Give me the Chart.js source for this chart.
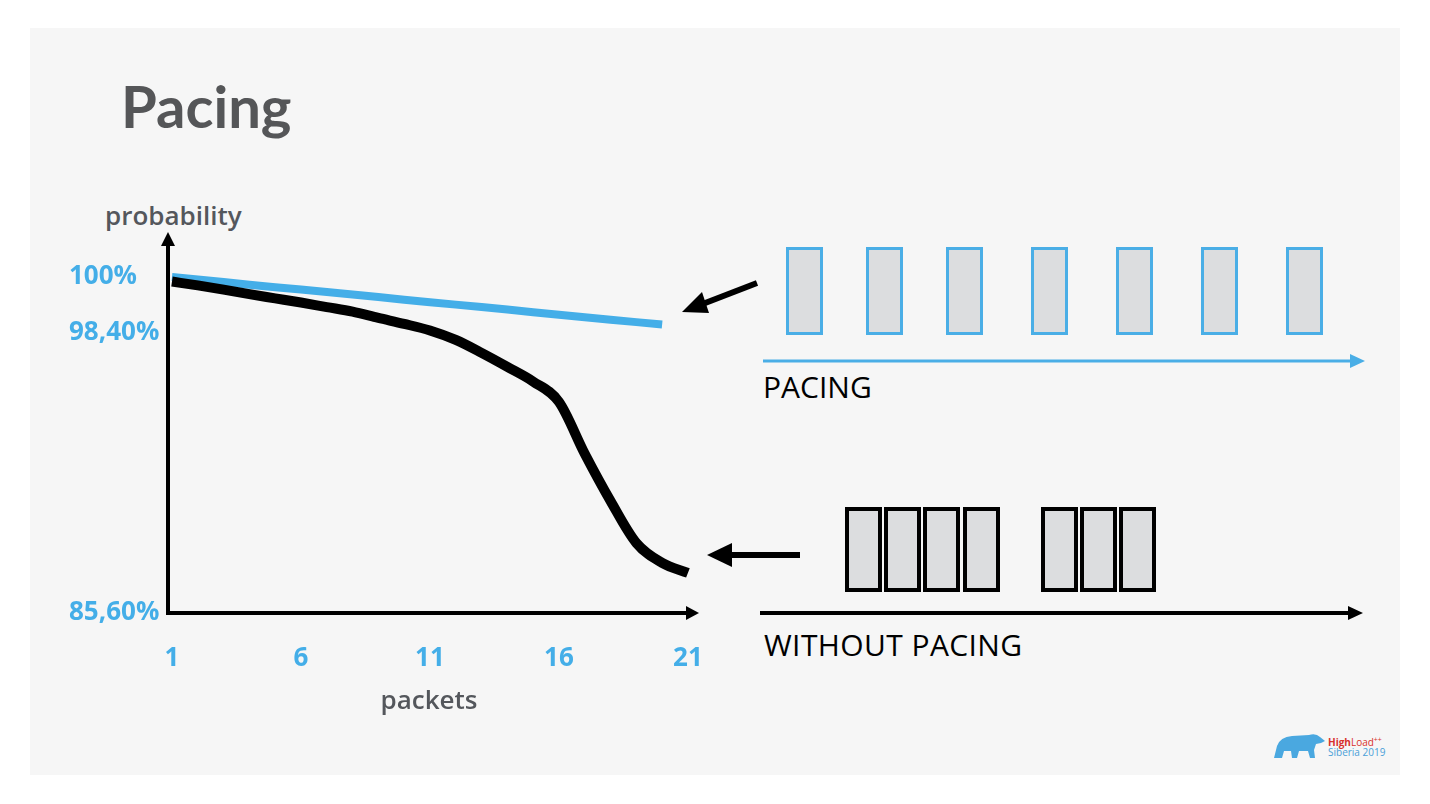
<!DOCTYPE html>
<html>
<head>
<meta charset="utf-8">
<title>Pacing</title>
<script src="https://cdn.jsdelivr.net/npm/chart.js@4/dist/chart.umd.min.js"></script>
<style>
  body { margin: 0; background: #fff; width: 1430px; height: 804px; overflow: hidden; position: relative; }
  .slide { position: absolute; left: 30px; top: 28px; width: 1370px; height: 747px; background: #f6f6f6; }
  .title { position: absolute; left: 121px; top: 77px; font: 700 58px Lato, sans-serif; color: #555658; line-height: 1; }
  .ylabel { position: absolute; left: 105px; top: 202px; font: 600 26px "Open Sans", sans-serif; color: #54575c; line-height: 1; }
  .caption { position: absolute; font: 500 30px "Open Sans", sans-serif; color: #000; line-height: 1; }
  #deco { position: absolute; left: 0; top: 0; }
  #wrap { position: absolute; left: 60px; top: 225px; width: 660px; height: 500px; }
</style>
</head>
<body>
<div class="slide"></div>
<div class="title">Pacing</div>
<div class="ylabel">probability</div>
<div class="caption" style="left:763px; top:372px;">PACING</div>
<div class="caption" style="left:764px; top:630px; letter-spacing:0.4px;">WITHOUT PACING</div>

<svg id="deco" width="1430" height="804">
  <!-- paced packets -->
  <g fill="#dcdddf" stroke="#4aaee6" stroke-width="3">
    <rect x="787.5" y="248.5" width="34" height="85"/>
    <rect x="867.5" y="248.5" width="34" height="85"/>
    <rect x="947.5" y="248.5" width="34" height="85"/>
    <rect x="1032.5" y="248.5" width="34" height="85"/>
    <rect x="1117.5" y="248.5" width="34" height="85"/>
    <rect x="1202.5" y="248.5" width="34" height="85"/>
    <rect x="1287.5" y="248.5" width="34" height="85"/>
  </g>
  <line x1="763" y1="361" x2="1352" y2="361" stroke="#4aaee6" stroke-width="3"/>
  <polygon points="1365,361 1350,354 1350,368" fill="#4aaee6"/>

  <!-- bursts -->
  <g fill="#dcdddf" stroke="#000" stroke-width="4">
    <rect x="847" y="509" width="33" height="81"/>
    <rect x="886" y="509" width="33" height="81"/>
    <rect x="925" y="509" width="33" height="81"/>
    <rect x="965" y="509" width="33" height="81"/>
    <rect x="1043" y="509" width="33" height="81"/>
    <rect x="1082" y="509" width="33" height="81"/>
    <rect x="1121" y="509" width="33" height="81"/>
  </g>
  <line x1="760" y1="613" x2="1350" y2="613" stroke="#000" stroke-width="4"/>
  <polygon points="1363,613 1348,606 1348,620" fill="#000"/>

  <!-- pointers to the curves -->
  <line x1="757" y1="283" x2="700" y2="305" stroke="#000" stroke-width="6"/>
  <polygon points="682,312 702,292 709,313" fill="#000"/>
  <line x1="800" y1="555" x2="725" y2="555" stroke="#000" stroke-width="6"/>
  <polygon points="707,555 732,543 732,567" fill="#000"/>

  <!-- logo -->
  <path d="M1274,758 L1277,746 Q1280,737 1292,736 L1309,735 Q1316,733 1320,737 L1325,741 L1321,743 L1316,744 L1314,750 L1315,758 L1310,758 L1308,751 L1299,751 L1297,758 L1292,758 L1291,751 L1284,751 L1282,758 Z" fill="#4aa8e0"/>
  <text x="1328" y="746" font-family="Open Sans" font-size="10" fill="#d8312c"><tspan font-weight="700">High</tspan><tspan>Load</tspan><tspan font-size="7" dy="-4">++</tspan></text>
  <text x="1328" y="756" font-family="Open Sans" font-size="10" fill="#4a9fd8">Siberia 2019</text>
</svg>

<div id="wrap"><canvas id="chart" width="660" height="500"></canvas></div>

<script>
// packets sent in a row
const packets = [1, 2, 3, 4, 5, 6, 7, 8, 9, 10, 11, 12, 13, 14, 15, 16, 17, 18, 19, 20, 21];
// probability (%) of delivery
const withPacing = [100.00, 99.93, 99.86, 99.78, 99.71, 99.64, 99.57, 99.50, 99.43, 99.35,
                    99.28, 99.21, 99.14, 99.07, 98.99, 98.92, 98.85, 98.78, 98.71, 98.64, null];
const withoutPacing = [99.87, 99.76, 99.64, 99.51, 99.39, 99.27, 99.14, 99.01, 98.83, 98.66,
                       98.47, 98.08, 97.49, 96.85, 96.18, 95.25, 92.88, 90.72, 88.80, 87.89, 87.43];
const xTicks = [1, 6, 11, 16, 21];
const yTicks = [85.6, 98.4, 100];
const yTickLabels = ['85,60%', '98,40%', '100%'];

const BLUE = '#44aee8';

// y axis on the slide is not to scale: linear between the labelled values
class BrokenScale extends Chart.LinearScale {
  _decimal(value) {
    const vals = this.options.breakValues, dec = this.options.breakDecimals;
    let i = 1;
    while (i < vals.length - 1 && value > vals[i]) i++;
    const t = (value - vals[i - 1]) / (vals[i] - vals[i - 1]);
    return dec[i - 1] + t * (dec[i] - dec[i - 1]);
  }
  getPixelForValue(value) {
    if (value === null || value === undefined) return NaN;
    return this.getPixelForDecimal(this._decimal(value));
  }
  getValueForPixel(pixel) {
    const d = this.getDecimalForPixel(pixel);
    const vals = this.options.breakValues, dec = this.options.breakDecimals;
    let i = 1;
    while (i < dec.length - 1 && d > dec[i]) i++;
    const t = (d - dec[i - 1]) / (dec[i] - dec[i - 1]);
    return vals[i - 1] + t * (vals[i] - vals[i - 1]);
  }
}
BrokenScale.id = 'broken';
BrokenScale.defaults = Chart.LinearScale.defaults;
Chart.register(BrokenScale);

const axisArrows = {
  id: 'axisArrows',
  afterDraw(chart) {
    const { ctx, chartArea: { left, right, top, bottom } } = chart;
    ctx.save();
    ctx.fillStyle = '#000';
    ctx.beginPath();
    ctx.moveTo(left, top - 13);
    ctx.lineTo(left - 7, top + 1);
    ctx.lineTo(left + 7, top + 1);
    ctx.closePath();
    ctx.fill();
    ctx.beginPath();
    ctx.moveTo(right + 9, bottom);
    ctx.lineTo(right - 4, bottom - 7);
    ctx.lineTo(right - 4, bottom + 7);
    ctx.closePath();
    ctx.fill();
    ctx.restore();
  }
};

const toPoints = (vals) => packets.map((p, i) => ({ x: p, y: vals[i] }));

new Chart(document.getElementById('chart'), {
  type: 'line',
  data: {
    datasets: [
      {
        label: 'without pacing',
        data: toPoints(withoutPacing),
        borderColor: '#000',
        borderWidth: 10,
        cubicInterpolationMode: 'monotone',
        pointRadius: 0,
        clip: false
      },
      {
        label: 'pacing',
        data: toPoints(withPacing),
        borderColor: BLUE,
        borderWidth: 8,
        pointRadius: 0,
        clip: false
      }
    ]
  },
  options: {
    responsive: false,
    animation: false,
    layout: { padding: { left: 9, top: 20, right: 30, bottom: 0 } },
    plugins: { legend: { display: false }, tooltip: { enabled: false } },
    scales: {
      x: {
        type: 'linear',
        min: 0.845,
        max: 21.08,
        afterBuildTicks: (scale) => { scale.ticks = xTicks.map(v => ({ value: v })); },
        afterFit: (scale) => {
          scale.height = 112;
          scale.paddingLeft = 0;
          scale.paddingRight = 0;
        },
        grid: { display: false },
        border: { color: '#000', width: 4 },
        ticks: {
          color: BLUE,
          padding: 22,
          font: { family: 'Open Sans', size: 26, weight: 'bold' },
          callback: (v) => String(v)
        },
        title: {
          display: true,
          text: 'packets',
          color: '#54575c',
          font: { family: 'Open Sans', size: 26, weight: 600 },
          padding: { top: 0, bottom: 8 }
        }
      },
      y: {
        type: 'broken',
        min: 85.6,
        max: 100.91,
        breakValues: [85.6, 98.4, 100, 100.91],
        breakDecimals: [0, 0.761, 0.913, 1],
        afterBuildTicks: (scale) => { scale.ticks = yTicks.map(v => ({ value: v })); },
        afterFit: (scale) => {
          scale.width = 99;
          scale.paddingTop = 0;
          scale.paddingBottom = 0;
        },
        grid: { display: false },
        border: { color: '#000', width: 4 },
        ticks: {
          color: BLUE,
          crossAlign: 'far',
          font: { family: 'Open Sans', size: 26, weight: 'bold' },
          callback: (v, i) => yTickLabels[i]
        }
      }
    }
  },
  plugins: [axisArrows]
});
</script>
</body>
</html>
